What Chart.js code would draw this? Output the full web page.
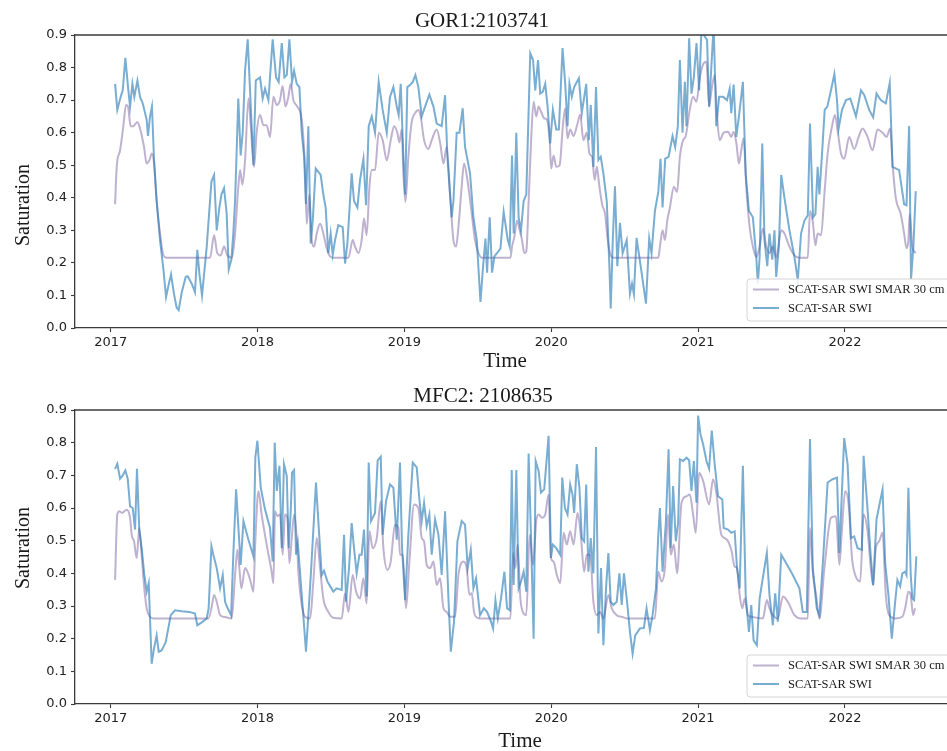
<!DOCTYPE html>
<html><head><meta charset="utf-8">
<script src="https://cdn.jsdelivr.net/npm/chart.js@4.4.1/dist/chart.umd.min.js"></script>
<style>
html,body{margin:0;padding:0;background:#fff;width:947px;height:751px;overflow:hidden;}
#wrap{position:relative;width:947px;height:751px;overflow:hidden;background:#fff;}
.cv{position:absolute;left:0;}
.txt{position:absolute;font-family:'Liberation Serif','DejaVu Serif',serif;color:#1a1a1a;white-space:nowrap;line-height:1;}
</style></head><body>
<div id="wrap">
  <div class="cv" style="top:0;width:965px;height:375px"><canvas id="c1" width="965" height="375"></canvas></div>
  <div class="cv" style="top:375px;width:965px;height:376px"><canvas id="c2" width="965" height="376"></canvas></div>
  <div class="txt" style="left:482px;top:20px;font-size:21px;transform:translate(-50%,-50%)">GOR1:2103741</div>
  <div class="txt" style="left:483px;top:395px;font-size:21px;transform:translate(-50%,-50%)">MFC2: 2108635</div>
  <div class="txt" style="left:505px;top:360px;font-size:21px;transform:translate(-50%,-50%)">Time</div>
  <div class="txt" style="left:520px;top:740px;font-size:21px;transform:translate(-50%,-50%)">Time</div>
  <div class="txt" style="left:22px;top:205px;font-size:20px;transform:translate(-50%,-50%) rotate(-90deg)">Saturation</div>
  <div class="txt" style="left:22px;top:548px;font-size:20px;transform:translate(-50%,-50%) rotate(-90deg)">Saturation</div>
</div>
<script>
const seriesLabels = ['SCAT-SAR SWI SMAR 30 cm', 'SCAT-SAR SWI'];
const xTicks = [2017, 2018, 2019, 2020, 2021, 2022];
const yTicks = [0, 0.1, 0.2, 0.3, 0.4, 0.5, 0.6, 0.7, 0.8, 0.9];
const xMin = 2016.757, xMax = 2022.763;

// GOR1:2103741  [decimal year, saturation]
const gorSmar = [[2017.030,0.38],[2017.041,0.495],[2017.064,0.546],[2017.086,0.62],[2017.104,0.685],[2017.118,0.68],[2017.136,0.62],[2017.154,0.62],[2017.182,0.633],[2017.200,0.613],[2017.227,0.556],[2017.245,0.505],[2017.263,0.515],[2017.281,0.536],[2017.295,0.505],[2017.313,0.39],[2017.336,0.29],[2017.359,0.223],[2017.381,0.216],[2017.677,0.216],[2017.704,0.285],[2017.726,0.23],[2017.749,0.223],[2017.772,0.25],[2017.795,0.223],[2017.824,0.216],[2017.847,0.29],[2017.869,0.434],[2017.881,0.485],[2017.897,0.44],[2017.915,0.515],[2017.938,0.705],[2017.953,0.628],[2017.976,0.495],[2017.994,0.60],[2018.017,0.654],[2018.040,0.623],[2018.062,0.623],[2018.085,0.587],[2018.108,0.71],[2018.131,0.685],[2018.153,0.70],[2018.171,0.743],[2018.190,0.68],[2018.210,0.71],[2018.226,0.75],[2018.244,0.70],[2018.271,0.68],[2018.301,0.64],[2018.323,0.495],[2018.335,0.32],[2018.353,0.41],[2018.369,0.27],[2018.385,0.25],[2018.403,0.29],[2018.426,0.32],[2018.448,0.29],[2018.471,0.245],[2018.494,0.22],[2018.516,0.216],[2018.619,0.216],[2018.648,0.27],[2018.664,0.25],[2018.687,0.23],[2018.709,0.27],[2018.725,0.336],[2018.743,0.285],[2018.762,0.434],[2018.778,0.485],[2018.800,0.485],[2018.825,0.60],[2018.852,0.577],[2018.880,0.515],[2018.907,0.577],[2018.930,0.62],[2018.952,0.60],[2018.966,0.57],[2018.982,0.61],[2018.993,0.475],[2019.007,0.387],[2019.027,0.526],[2019.050,0.633],[2019.073,0.66],[2019.095,0.67],[2019.111,0.65],[2019.134,0.577],[2019.163,0.55],[2019.186,0.577],[2019.220,0.61],[2019.243,0.57],[2019.266,0.505],[2019.288,0.556],[2019.311,0.41],[2019.334,0.27],[2019.352,0.25],[2019.368,0.31],[2019.390,0.434],[2019.406,0.505],[2019.429,0.455],[2019.459,0.35],[2019.481,0.27],[2019.515,0.22],[2019.529,0.216],[2019.722,0.216],[2019.733,0.25],[2019.749,0.28],[2019.767,0.33],[2019.785,0.30],[2019.801,0.27],[2019.817,0.23],[2019.830,0.235],[2019.846,0.39],[2019.862,0.567],[2019.880,0.695],[2019.898,0.65],[2019.914,0.68],[2019.930,0.665],[2019.952,0.644],[2019.971,0.64],[2019.989,0.577],[2020.000,0.49],[2020.016,0.53],[2020.034,0.495],[2020.057,0.50],[2020.079,0.62],[2020.095,0.675],[2020.111,0.583],[2020.129,0.61],[2020.152,0.59],[2020.179,0.628],[2020.197,0.655],[2020.219,0.577],[2020.242,0.60],[2020.260,0.536],[2020.278,0.526],[2020.296,0.455],[2020.310,0.495],[2020.328,0.434],[2020.346,0.38],[2020.367,0.35],[2020.382,0.28],[2020.400,0.23],[2020.423,0.216],[2020.729,0.216],[2020.740,0.25],[2020.758,0.30],[2020.774,0.27],[2020.790,0.33],[2020.808,0.37],[2020.835,0.434],[2020.857,0.418],[2020.876,0.526],[2020.898,0.577],[2020.916,0.59],[2020.943,0.67],[2020.966,0.71],[2020.989,0.695],[2021.011,0.767],[2021.034,0.81],[2021.057,0.818],[2021.075,0.68],[2021.090,0.726],[2021.113,0.777],[2021.129,0.65],[2021.147,0.577],[2021.174,0.60],[2021.204,0.603],[2021.226,0.587],[2021.242,0.603],[2021.260,0.57],[2021.278,0.505],[2021.294,0.546],[2021.310,0.583],[2021.328,0.434],[2021.351,0.31],[2021.373,0.25],[2021.396,0.218],[2021.419,0.25],[2021.441,0.306],[2021.464,0.25],[2021.486,0.23],[2021.509,0.25],[2021.532,0.216],[2021.566,0.30],[2021.588,0.29],[2021.622,0.25],[2021.656,0.223],[2021.690,0.216],[2021.747,0.216],[2021.762,0.36],[2021.781,0.326],[2021.799,0.254],[2021.814,0.29],[2021.837,0.285],[2021.860,0.41],[2021.882,0.536],[2021.912,0.62],[2021.932,0.654],[2021.952,0.60],[2021.973,0.536],[2021.995,0.52],[2022.029,0.587],[2022.063,0.55],[2022.093,0.587],[2022.120,0.613],[2022.154,0.587],[2022.188,0.546],[2022.222,0.61],[2022.256,0.60],[2022.283,0.587],[2022.308,0.613],[2022.324,0.505],[2022.346,0.40],[2022.380,0.35],[2022.403,0.29],[2022.419,0.245],[2022.432,0.27],[2022.441,0.35],[2022.459,0.25],[2022.482,0.23]];

const gorSwi = [[2017.030,0.75],[2017.045,0.67],[2017.068,0.71],[2017.082,0.73],[2017.100,0.83],[2017.118,0.74],[2017.132,0.68],[2017.148,0.75],[2017.161,0.71],[2017.182,0.76],[2017.200,0.71],[2017.218,0.69],[2017.245,0.64],[2017.254,0.59],[2017.268,0.65],[2017.281,0.68],[2017.295,0.52],[2017.313,0.39],[2017.336,0.27],[2017.359,0.18],[2017.377,0.095],[2017.393,0.13],[2017.411,0.165],[2017.431,0.105],[2017.449,0.063],[2017.463,0.055],[2017.484,0.11],[2017.511,0.157],[2017.524,0.159],[2017.552,0.136],[2017.574,0.11],[2017.590,0.24],[2017.604,0.167],[2017.622,0.10],[2017.654,0.25],[2017.686,0.45],[2017.704,0.47],[2017.722,0.30],[2017.740,0.37],[2017.754,0.41],[2017.772,0.43],[2017.790,0.35],[2017.804,0.18],[2017.822,0.21],[2017.835,0.29],[2017.847,0.39],[2017.869,0.705],[2017.885,0.53],[2017.899,0.60],[2017.915,0.79],[2017.933,0.887],[2017.953,0.69],[2017.972,0.50],[2017.988,0.76],[2018.017,0.77],[2018.035,0.705],[2018.051,0.735],[2018.074,0.70],[2018.103,0.887],[2018.126,0.77],[2018.144,0.756],[2018.165,0.875],[2018.183,0.77],[2018.199,0.777],[2018.217,0.887],[2018.235,0.756],[2018.249,0.79],[2018.267,0.75],[2018.285,0.74],[2018.301,0.60],[2018.317,0.526],[2018.330,0.38],[2018.346,0.62],[2018.362,0.26],[2018.376,0.33],[2018.396,0.49],[2018.430,0.47],[2018.448,0.41],[2018.464,0.37],[2018.482,0.23],[2018.498,0.29],[2018.512,0.225],[2018.528,0.27],[2018.550,0.316],[2018.580,0.31],[2018.596,0.198],[2018.612,0.26],[2018.641,0.475],[2018.657,0.39],[2018.680,0.37],[2018.698,0.455],[2018.721,0.52],[2018.739,0.377],[2018.757,0.62],[2018.778,0.65],[2018.800,0.60],[2018.825,0.756],[2018.852,0.67],[2018.880,0.60],[2018.902,0.71],[2018.925,0.74],[2018.948,0.68],[2018.961,0.654],[2018.975,0.75],[2018.993,0.526],[2019.005,0.41],[2019.020,0.74],[2019.038,0.746],[2019.057,0.756],[2019.075,0.777],[2019.095,0.74],[2019.118,0.65],[2019.141,0.68],[2019.170,0.717],[2019.198,0.68],[2019.220,0.628],[2019.254,0.62],[2019.277,0.715],[2019.293,0.526],[2019.322,0.34],[2019.334,0.39],[2019.356,0.60],[2019.375,0.60],[2019.397,0.675],[2019.413,0.556],[2019.447,0.475],[2019.470,0.34],[2019.493,0.27],[2019.518,0.08],[2019.536,0.19],[2019.552,0.275],[2019.563,0.17],[2019.581,0.34],[2019.597,0.17],[2019.613,0.22],[2019.654,0.244],[2019.676,0.357],[2019.704,0.27],[2019.717,0.25],[2019.733,0.53],[2019.744,0.29],[2019.762,0.60],[2019.778,0.34],[2019.794,0.30],[2019.812,0.39],[2019.830,0.41],[2019.857,0.844],[2019.876,0.823],[2019.891,0.73],[2019.910,0.823],[2019.925,0.72],[2019.943,0.726],[2019.959,0.75],[2019.975,0.68],[2019.993,0.567],[2020.011,0.67],[2020.034,0.61],[2020.052,0.61],[2020.077,0.86],[2020.095,0.75],[2020.111,0.62],[2020.124,0.75],[2020.140,0.71],[2020.156,0.74],[2020.188,0.767],[2020.208,0.66],[2020.238,0.75],[2020.256,0.577],[2020.269,0.685],[2020.287,0.495],[2020.305,0.74],[2020.321,0.516],[2020.337,0.526],[2020.355,0.475],[2020.378,0.39],[2020.396,0.19],[2020.405,0.06],[2020.419,0.27],[2020.434,0.435],[2020.450,0.19],[2020.468,0.323],[2020.486,0.23],[2020.514,0.27],[2020.536,0.105],[2020.550,0.136],[2020.563,0.104],[2020.581,0.277],[2020.609,0.19],[2020.645,0.075],[2020.667,0.275],[2020.683,0.23],[2020.706,0.36],[2020.729,0.418],[2020.744,0.52],[2020.758,0.37],[2020.776,0.52],[2020.799,0.526],[2020.826,0.59],[2020.844,0.556],[2020.862,0.62],[2020.876,0.823],[2020.894,0.60],[2020.910,0.756],[2020.921,0.62],[2020.939,0.89],[2020.955,0.72],[2020.971,0.77],[2020.989,0.875],[2021.007,0.73],[2021.023,0.92],[2021.045,0.895],[2021.061,0.885],[2021.075,0.68],[2021.090,0.80],[2021.106,0.93],[2021.124,0.62],[2021.143,0.71],[2021.170,0.71],[2021.197,0.70],[2021.215,0.735],[2021.226,0.66],[2021.242,0.748],[2021.260,0.587],[2021.278,0.65],[2021.305,0.756],[2021.324,0.475],[2021.346,0.36],[2021.373,0.34],[2021.396,0.218],[2021.407,0.136],[2021.419,0.218],[2021.437,0.567],[2021.452,0.27],[2021.471,0.19],[2021.486,0.29],[2021.505,0.21],[2021.520,0.30],[2021.532,0.157],[2021.550,0.25],[2021.566,0.47],[2021.588,0.40],[2021.622,0.30],[2021.656,0.218],[2021.679,0.147],[2021.701,0.29],[2021.724,0.33],[2021.747,0.346],[2021.762,0.628],[2021.783,0.34],[2021.799,0.35],[2021.814,0.495],[2021.826,0.41],[2021.844,0.536],[2021.862,0.67],[2021.880,0.68],[2021.905,0.73],[2021.928,0.78],[2021.946,0.70],[2021.957,0.613],[2021.980,0.67],[2022.007,0.70],[2022.036,0.705],[2022.075,0.65],[2022.109,0.73],[2022.131,0.716],[2022.165,0.67],[2022.192,0.647],[2022.215,0.72],[2022.244,0.70],[2022.278,0.69],[2022.305,0.753],[2022.324,0.495],[2022.369,0.485],[2022.403,0.38],[2022.419,0.377],[2022.437,0.62],[2022.450,0.15],[2022.466,0.25],[2022.482,0.42]];

// MFC2: 2108635  [decimal year, saturation]
const mfcSmar = [[2017.030,0.38],[2017.045,0.58],[2017.059,0.59],[2017.077,0.585],[2017.109,0.595],[2017.132,0.57],[2017.143,0.518],[2017.159,0.498],[2017.177,0.447],[2017.195,0.539],[2017.211,0.457],[2017.227,0.364],[2017.245,0.293],[2017.268,0.267],[2017.291,0.262],[2017.665,0.262],[2017.686,0.293],[2017.704,0.334],[2017.722,0.313],[2017.745,0.272],[2017.779,0.266],[2017.824,0.262],[2017.847,0.395],[2017.863,0.472],[2017.876,0.416],[2017.890,0.354],[2017.915,0.416],[2017.931,0.405],[2017.953,0.375],[2017.972,0.344],[2017.983,0.477],[2018.006,0.652],[2018.028,0.58],[2018.062,0.488],[2018.096,0.405],[2018.108,0.37],[2018.119,0.59],[2018.135,0.575],[2018.153,0.58],[2018.171,0.457],[2018.187,0.58],[2018.203,0.57],[2018.217,0.431],[2018.233,0.508],[2018.249,0.58],[2018.267,0.508],[2018.278,0.405],[2018.301,0.303],[2018.323,0.267],[2018.358,0.262],[2018.380,0.375],[2018.403,0.508],[2018.426,0.416],[2018.448,0.323],[2018.482,0.282],[2018.516,0.264],[2018.573,0.262],[2018.596,0.339],[2018.619,0.282],[2018.648,0.395],[2018.671,0.344],[2018.698,0.323],[2018.721,0.385],[2018.743,0.308],[2018.762,0.529],[2018.784,0.477],[2018.812,0.508],[2018.839,0.621],[2018.857,0.477],[2018.884,0.411],[2018.907,0.436],[2018.936,0.549],[2018.959,0.539],[2018.970,0.457],[2018.989,0.457],[2019.011,0.293],[2019.034,0.436],[2019.066,0.611],[2019.095,0.60],[2019.118,0.508],[2019.134,0.498],[2019.152,0.426],[2019.175,0.416],[2019.198,0.436],[2019.220,0.364],[2019.243,0.385],[2019.266,0.293],[2019.288,0.282],[2019.311,0.267],[2019.345,0.267],[2019.368,0.395],[2019.402,0.436],[2019.424,0.416],[2019.443,0.334],[2019.459,0.339],[2019.474,0.282],[2019.497,0.264],[2019.515,0.262],[2019.586,0.262],[2019.722,0.262],[2019.740,0.462],[2019.756,0.416],[2019.771,0.488],[2019.790,0.323],[2019.812,0.277],[2019.830,0.272],[2019.853,0.518],[2019.876,0.426],[2019.898,0.56],[2019.914,0.58],[2019.937,0.57],[2019.959,0.58],[2019.982,0.641],[2019.998,0.447],[2020.016,0.436],[2020.038,0.395],[2020.061,0.37],[2020.084,0.524],[2020.106,0.488],[2020.129,0.529],[2020.152,0.488],[2020.179,0.585],[2020.201,0.518],[2020.224,0.405],[2020.242,0.457],[2020.265,0.457],[2020.287,0.313],[2020.310,0.272],[2020.333,0.282],[2020.355,0.262],[2020.389,0.334],[2020.412,0.293],[2020.446,0.272],[2020.480,0.267],[2020.514,0.262],[2020.706,0.262],[2020.729,0.405],[2020.751,0.375],[2020.774,0.416],[2020.796,0.58],[2020.814,0.457],[2020.835,0.488],[2020.857,0.40],[2020.887,0.616],[2020.921,0.636],[2020.943,0.641],[2020.966,0.58],[2020.984,0.524],[2021.007,0.708],[2021.034,0.683],[2021.075,0.611],[2021.102,0.688],[2021.124,0.647],[2021.158,0.518],[2021.181,0.508],[2021.204,0.498],[2021.226,0.472],[2021.249,0.421],[2021.265,0.416],[2021.283,0.334],[2021.301,0.293],[2021.317,0.323],[2021.339,0.272],[2021.362,0.267],[2021.441,0.262],[2021.468,0.318],[2021.486,0.293],[2021.509,0.272],[2021.543,0.262],[2021.577,0.329],[2021.611,0.313],[2021.656,0.272],[2021.701,0.262],[2021.747,0.262],[2021.762,0.539],[2021.781,0.405],[2021.803,0.334],[2021.826,0.262],[2021.860,0.416],[2021.905,0.57],[2021.939,0.575],[2021.962,0.426],[2021.977,0.518],[2022.002,0.652],[2022.025,0.611],[2022.048,0.447],[2022.070,0.395],[2022.104,0.375],[2022.127,0.58],[2022.154,0.529],[2022.176,0.416],[2022.192,0.364],[2022.210,0.477],[2022.233,0.498],[2022.256,0.524],[2022.278,0.334],[2022.301,0.272],[2022.346,0.262],[2022.391,0.267],[2022.410,0.293],[2022.432,0.344],[2022.448,0.334],[2022.464,0.272],[2022.477,0.293]];

const mfcSwi = [[2017.030,0.72],[2017.045,0.735],[2017.064,0.69],[2017.082,0.70],[2017.100,0.715],[2017.116,0.69],[2017.132,0.605],[2017.150,0.60],[2017.166,0.534],[2017.179,0.72],[2017.195,0.53],[2017.211,0.477],[2017.229,0.395],[2017.245,0.344],[2017.259,0.37],[2017.279,0.123],[2017.295,0.17],[2017.313,0.21],[2017.327,0.16],[2017.347,0.164],[2017.375,0.19],[2017.409,0.272],[2017.438,0.287],[2017.484,0.284],[2017.536,0.282],[2017.574,0.277],[2017.590,0.241],[2017.620,0.25],[2017.654,0.262],[2017.667,0.293],[2017.686,0.483],[2017.699,0.457],[2017.722,0.416],[2017.745,0.354],[2017.763,0.395],[2017.779,0.313],[2017.797,0.293],[2017.820,0.272],[2017.835,0.457],[2017.854,0.657],[2017.867,0.56],[2017.885,0.426],[2017.904,0.56],[2017.938,0.503],[2017.972,0.452],[2017.985,0.755],[2017.999,0.806],[2018.022,0.662],[2018.051,0.595],[2018.085,0.539],[2018.103,0.436],[2018.117,0.80],[2018.131,0.652],[2018.149,0.729],[2018.165,0.477],[2018.180,0.734],[2018.199,0.698],[2018.212,0.477],[2018.226,0.59],[2018.235,0.708],[2018.249,0.716],[2018.262,0.457],[2018.274,0.493],[2018.289,0.405],[2018.308,0.293],[2018.330,0.16],[2018.346,0.272],[2018.364,0.405],[2018.398,0.678],[2018.414,0.56],[2018.437,0.395],[2018.453,0.408],[2018.476,0.375],[2018.516,0.344],[2018.539,0.354],[2018.573,0.349],[2018.589,0.518],[2018.603,0.313],[2018.623,0.416],[2018.641,0.554],[2018.657,0.477],[2018.675,0.40],[2018.694,0.457],[2018.709,0.457],[2018.725,0.534],[2018.743,0.329],[2018.757,0.739],[2018.773,0.56],[2018.800,0.585],[2018.818,0.746],[2018.839,0.757],[2018.852,0.518],[2018.875,0.621],[2018.902,0.672],[2018.925,0.662],[2018.948,0.503],[2018.970,0.739],[2018.984,0.477],[2019.005,0.318],[2019.027,0.518],[2019.057,0.739],[2019.084,0.724],[2019.102,0.626],[2019.118,0.56],[2019.134,0.616],[2019.152,0.544],[2019.170,0.58],[2019.186,0.457],[2019.209,0.565],[2019.232,0.518],[2019.254,0.395],[2019.277,0.59],[2019.300,0.323],[2019.316,0.16],[2019.338,0.252],[2019.361,0.498],[2019.390,0.56],[2019.413,0.549],[2019.431,0.416],[2019.452,0.472],[2019.470,0.354],[2019.488,0.385],[2019.515,0.272],[2019.541,0.293],[2019.563,0.282],[2019.590,0.252],[2019.604,0.231],[2019.620,0.318],[2019.636,0.262],[2019.658,0.323],[2019.681,0.405],[2019.699,0.293],[2019.717,0.287],[2019.731,0.716],[2019.744,0.364],[2019.762,0.716],[2019.778,0.354],[2019.794,0.375],[2019.812,0.405],[2019.830,0.344],[2019.846,0.767],[2019.862,0.518],[2019.880,0.20],[2019.894,0.744],[2019.914,0.713],[2019.930,0.647],[2019.952,0.657],[2019.982,0.821],[2019.998,0.447],[2020.011,0.488],[2020.034,0.477],[2020.061,0.457],[2020.075,0.693],[2020.093,0.60],[2020.111,0.58],[2020.129,0.672],[2020.145,0.641],[2020.156,0.585],[2020.174,0.734],[2020.192,0.662],[2020.208,0.508],[2020.224,0.498],[2020.238,0.672],[2020.253,0.405],[2020.269,0.508],[2020.287,0.40],[2020.305,0.787],[2020.321,0.216],[2020.339,0.416],[2020.355,0.18],[2020.373,0.354],[2020.389,0.462],[2020.405,0.313],[2020.423,0.303],[2020.446,0.313],[2020.464,0.40],[2020.480,0.303],[2020.495,0.40],[2020.514,0.323],[2020.536,0.221],[2020.554,0.154],[2020.572,0.21],[2020.604,0.231],[2020.631,0.233],[2020.649,0.293],[2020.672,0.226],[2020.690,0.272],[2020.713,0.354],[2020.729,0.518],[2020.740,0.60],[2020.758,0.405],[2020.781,0.56],[2020.799,0.78],[2020.814,0.477],[2020.830,0.667],[2020.848,0.498],[2020.864,0.554],[2020.876,0.749],[2020.898,0.744],[2020.921,0.754],[2020.939,0.746],[2020.955,0.652],[2020.971,0.744],[2020.989,0.616],[2021.000,0.883],[2021.016,0.826],[2021.034,0.795],[2021.057,0.744],[2021.075,0.72],[2021.093,0.837],[2021.113,0.734],[2021.136,0.636],[2021.165,0.626],[2021.174,0.539],[2021.204,0.534],[2021.226,0.524],[2021.249,0.529],[2021.265,0.416],[2021.283,0.354],[2021.305,0.729],[2021.324,0.334],[2021.346,0.221],[2021.362,0.303],[2021.378,0.195],[2021.400,0.18],[2021.419,0.323],[2021.437,0.375],[2021.468,0.462],[2021.486,0.334],[2021.509,0.241],[2021.525,0.339],[2021.543,0.252],[2021.566,0.457],[2021.600,0.431],[2021.645,0.395],[2021.690,0.354],[2021.713,0.282],[2021.740,0.282],[2021.762,0.811],[2021.781,0.416],[2021.808,0.293],[2021.826,0.272],[2021.853,0.457],[2021.882,0.678],[2021.916,0.688],[2021.946,0.693],[2021.962,0.462],[2021.973,0.58],[2021.989,0.754],[2021.995,0.814],[2022.018,0.734],[2022.041,0.508],[2022.063,0.513],[2022.086,0.477],[2022.115,0.472],[2022.127,0.76],[2022.154,0.595],[2022.176,0.452],[2022.192,0.364],[2022.215,0.565],[2022.233,0.606],[2022.256,0.657],[2022.274,0.431],[2022.296,0.334],[2022.319,0.20],[2022.342,0.313],[2022.357,0.38],[2022.376,0.36],[2022.391,0.40],[2022.410,0.405],[2022.419,0.395],[2022.432,0.662],[2022.448,0.395],[2022.459,0.323],[2022.471,0.318],[2022.486,0.452]];

const SPINE = '#3a3a3a';

const topSpine = {
  id: 'topSpine',
  afterDraw(chart) {
    const {ctx, chartArea: a} = chart;
    ctx.save();
    ctx.strokeStyle = SPINE; ctx.lineWidth = 1.3;
    ctx.beginPath(); ctx.moveTo(a.left, a.top); ctx.lineTo(a.right, a.top); ctx.stroke();
    ctx.restore();
  }
};

const legendBox = {
  id: 'legendBox',
  afterDraw(chart, args, o) {
    const {ctx, chartArea: a} = chart;
    const left = a.left + o.dx, top = a.bottom - o.dy, w = o.w, h = o.h, r = 3;
    ctx.save();
    ctx.beginPath();
    ctx.moveTo(left + r, top); ctx.lineTo(left + w - r, top); ctx.arcTo(left + w, top, left + w, top + r, r);
    ctx.lineTo(left + w, top + h - r); ctx.arcTo(left + w, top + h, left + w - r, top + h, r);
    ctx.lineTo(left + r, top + h); ctx.arcTo(left, top + h, left, top + h - r, r);
    ctx.lineTo(left, top + r); ctx.arcTo(left, top, left + r, top, r);
    ctx.closePath();
    ctx.fillStyle = 'rgba(255,255,255,0.85)'; ctx.fill();
    ctx.strokeStyle = '#d4d4d4'; ctx.lineWidth = 1; ctx.stroke();
    chart.data.datasets.forEach((ds, i) => {
      const y = top + o.row0 + i * o.rowGap;
      ctx.strokeStyle = ds.borderColor; ctx.lineWidth = ds.borderWidth;
      ctx.beginPath(); ctx.moveTo(left + 6, y); ctx.lineTo(left + 32, y); ctx.stroke();
      ctx.fillStyle = '#1a1a1a'; ctx.font = o.font; ctx.textBaseline = 'middle'; ctx.textAlign = 'left';
      ctx.fillText(ds.label, left + 41, y + 0.5);
    });
    ctx.restore();
  }
};

const tickFont = {family: "'DejaVu Sans', sans-serif", size: 13};

function makeChart(id, smar, swi) {
  return new Chart(document.getElementById(id), {
    type: 'line',
    data: {
      datasets: [
        {label: seriesLabels[0], data: smar.map(p => ({x: p[0], y: p[1]})), borderColor: 'rgba(128,100,162,0.5)', borderWidth: 2, pointRadius: 0, cubicInterpolationMode: 'monotone', order: 1},
        {label: seriesLabels[1], data: swi.map(p => ({x: p[0], y: p[1]})), borderColor: 'rgba(31,119,180,0.6)', borderWidth: 2, pointRadius: 0, tension: 0, order: 0}
      ]
    },
    options: {
      responsive: false, animation: false, devicePixelRatio: 1,
      layout: {padding: {left: 0, right: 8, top: 35, bottom: 0}},
      plugins: {
        legend: {display: false}, tooltip: {enabled: false}, title: {display: false},
        legendBox: {dx: 672, dy: 49, w: 212, h: 42, row0: 10.5, rowGap: 18.5, font: "12.5px 'Liberation Serif', serif"}
      },
      scales: {
        x: {
          type: 'linear', min: xMin, max: xMax,
          afterBuildTicks: s => { s.ticks = xTicks.map(v => ({value: v})); },
          afterFit: s => { s.height = 47; },
          ticks: {callback: v => String(v), font: tickFont, color: '#222', padding: 3, maxRotation: 0, autoSkip: false},
          grid: {display: true, drawOnChartArea: false, tickLength: 4, tickColor: SPINE, tickWidth: 1.1},
          border: {color: SPINE, width: 1.3}
        },
        y: {
          min: 0, max: 0.9,
          afterBuildTicks: s => { s.ticks = yTicks.map(v => ({value: v})); },
          afterFit: s => { s.width = 75; },
          ticks: {callback: v => Number(v).toFixed(1), font: tickFont, color: '#222', padding: 4, autoSkip: false},
          grid: {display: true, drawOnChartArea: false, tickLength: 4, tickColor: SPINE, tickWidth: 1.1},
          border: {color: SPINE, width: 1.3}
        }
      }
    },
    plugins: [topSpine, legendBox]
  });
}

makeChart('c1', gorSmar, gorSwi);
makeChart('c2', mfcSmar, mfcSwi);
</script>
</body></html>
